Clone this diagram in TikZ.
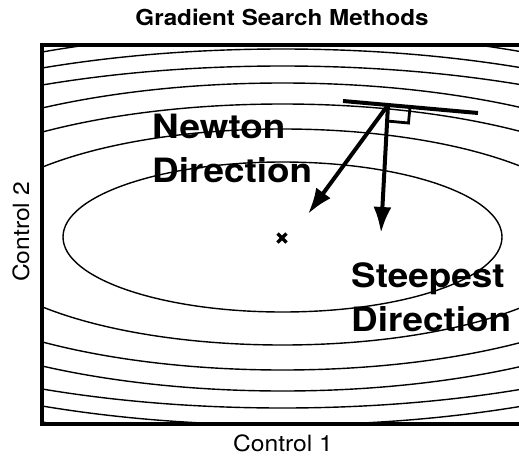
\documentclass[tikz,border=0pt]{standalone}
\usepackage{fontspec}
\setsansfont{TeX Gyre Heros}
\newfontfamily\widesans[FakeStretch=1.1]{TeX Gyre Heros}
\usetikzlibrary{arrows.meta,calc}

\begin{document}
\begin{tikzpicture}[
    x=1pt, y=-1pt,
    font=\widesans,
    >={Latex[length=26pt,width=18pt]},
    contour/.style={line width=1.4pt},
    frameline/.style={line width=3.5pt},
    dirarrow/.style={->, line width=4pt},
    tangentline/.style={line width=4pt},
    rightangle/.style={line width=2.8pt},
    minpoint/.style={line width=3.2pt},
    dirlabel/.style={font=\widesans\bfseries\fontsize{33.5}{44}\selectfont, align=left, inner sep=0pt, anchor=north west},
    axislabel/.style={font=\widesans\fontsize{22.4}{27}\selectfont, inner sep=0pt},
    titlelabel/.style={font=\widesans\bfseries\fontsize{22}{26}\selectfont, inner sep=0pt}
]

    \useasboundingbox (0,0) rectangle (519,458);
    \clip (0,0) rectangle (519,458);

    \node[titlelabel] (title) at (282,17) {Gradient Search Methods};

    \begin{scope}
        \clip (42,45) rectangle (560,424);
        \draw[contour] (282.5,237) ellipse [x radius=219.5pt, y radius=75pt];
        \draw[contour] (282.5,237) ellipse [x radius=315pt, y radius=108pt];
        \draw[contour] (282.5,237) ellipse [x radius=391pt, y radius=133pt];
        \draw[contour] (282.5,237) ellipse [x radius=440pt, y radius=154pt];
        \draw[contour] (282.5,237) ellipse [x radius=524pt, y radius=171pt];
        \draw[contour] (282.5,237) ellipse [x radius=548pt, y radius=188pt];
        \draw[contour] (282.5,237) ellipse [x radius=557pt, y radius=205pt];
    \end{scope}

    \draw[frameline] (560,45) -- (42,45) -- (42,424) -- (560,424);

    \node[axislabel] (xlabel) at (283,443) {Control 1};
    \node[axislabel, rotate=90] (ylabel) at (21,232) {Control 2};

    \coordinate (minimum) at (282,238);
    \draw[minpoint] ($(minimum)+(-4.5,-4.5)$) -- ($(minimum)+(4.5,4.5)$);
    \draw[minpoint] ($(minimum)+(-4.5,4.5)$) -- ($(minimum)+(4.5,-4.5)$);

    \coordinate (tanleft) at (343,101);
    \coordinate (tanright) at (478,113);
    \coordinate (tanpoint) at (388,105);
    \coordinate (newtontip) at (308,214);
    \coordinate (steepesttip) at (381,233);

    \draw[tangentline] (tanleft) -- (tanright);
    \draw[rightangle] (410,107) -- (408.5,123) -- (387,121);
    \draw[dirarrow] (tanpoint) -- (newtontip);
    \draw[dirarrow] (tanpoint) -- (steepesttip);

    \node[dirlabel] (newton) at (152,114) {Newton\\Direction};
    \node[dirlabel] (steepest) at (351,262) {Steepest\\Direction};

\end{tikzpicture}
\end{document}
